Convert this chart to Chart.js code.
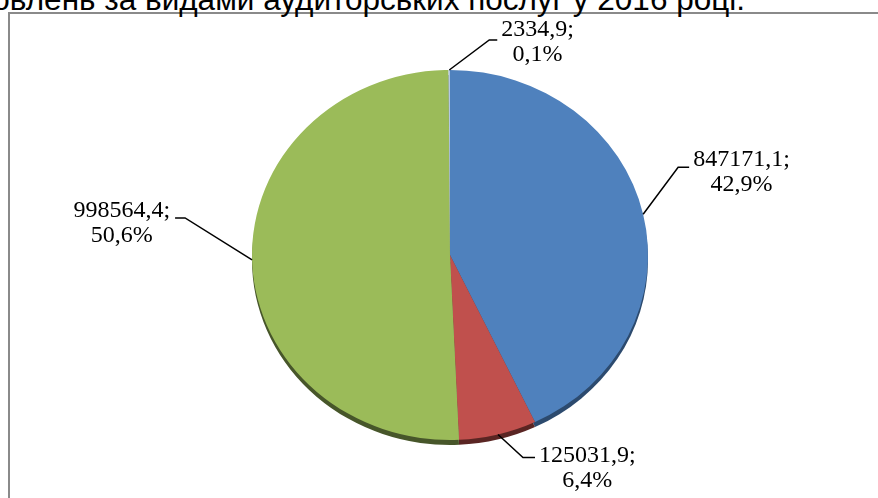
<!DOCTYPE html>
<html lang="uk">
<head>
<meta charset="utf-8">
<script src="https://cdn.jsdelivr.net/npm/chart.js@4/dist/chart.umd.min.js"></script>
<style>
    html, body { margin: 0; padding: 0; background: #fff; overflow: hidden; }
    body { width: 878px; height: 498px; position: relative; }
    .frame { position: absolute; left: 8px; top: 12px; width: 900px; height: 600px; border: 2px solid #8a8a8a; }
    .title { position: absolute; right: 133px; top: -19px; white-space: nowrap; font: 31.5px "Liberation Sans", Arial, sans-serif; color: #000; }
    #chart { position: absolute; left: 0; top: 0; }
</style>
</head>
<body>
<div class="frame"></div>
<div class="title">Структура замовлень за видами аудиторських послуг у 2016 році.</div>
<canvas id="chart" width="878" height="498"></canvas>
<script>
const categories = ["Послуга 1", "Послуга 2", "Послуга 3", "Послуга 4"];
const values = [847171.1, 125031.9, 998564.4, 2334.9];
const percentLabels = ["42,9%", "6,4%", "50,6%", "0,1%"];
const colors = ["#4f81bd", "#c0504d", "#9bbb59", "#b4c7e2"];
const rimColors = ["#2c4a6e", "#5a2523", "#47562a", "#5c6f88"];

// where each leader line bends and how far the text sits from it
const labelLayout = [
    { ex: 35, ey: -47, hx: 11, ty: -8 },
    { ex: 25, ey: 23, hx: 12, ty: -2 },
    { ex: -67, ey: -42, hx: -10, ty: -7 },
    { ex: 40, ey: -30, hx: 8, ty: -10 },
];

const squash = 185 / 198;
const fmt = (v) => v.toFixed(1).replace(".", ",");

const tiltPlugin = {
    id: "tilt",
    beforeDatasetsDraw(chart) {
        const ctx = chart.ctx;
        const arcs = chart.getDatasetMeta(0).data;
        const { x, y } = arcs[0];
        ctx.save();
        ctx.translate(x, y);
        ctx.scale(1, squash);
        ctx.translate(-x, -y);
        // dark rim under the pie
        const drop = 5 / squash;
        arcs.forEach((arc, i) => {
            ctx.beginPath();
            ctx.moveTo(arc.x, arc.y + drop);
            ctx.arc(arc.x, arc.y + drop, arc.outerRadius, arc.startAngle, arc.endAngle);
            ctx.closePath();
            ctx.fillStyle = rimColors[i];
            ctx.fill();
        });
    },
    afterDatasetsDraw(chart) {
        chart.ctx.restore();
    },
};

const labelPlugin = {
    id: "pieLabels",
    afterDraw(chart) {
        const ctx = chart.ctx;
        const arcs = chart.getDatasetMeta(0).data;
        ctx.save();
        ctx.font = '24px "Liberation Serif", "Times New Roman", serif';
        ctx.fillStyle = "#000";
        ctx.strokeStyle = "#000";
        ctx.lineWidth = 1.5;
        ctx.textAlign = "center";
        ctx.textBaseline = "middle";
        arcs.forEach((arc, i) => {
            const mid = (arc.startAngle + arc.endAngle) / 2;
            const ax = arc.x + arc.outerRadius * Math.cos(mid);
            const ay = arc.y + arc.outerRadius * squash * Math.sin(mid);
            const lay = labelLayout[i];
            const bx = ax + lay.ex;
            const by = ay + lay.ey;
            const endX = bx + lay.hx;
            ctx.beginPath();
            ctx.moveTo(ax, ay);
            ctx.lineTo(bx, by);
            ctx.lineTo(endX, by);
            ctx.stroke();

            const line1 = fmt(values[i]) + ";";
            const line2 = percentLabels[i];
            const w = Math.max(ctx.measureText(line1).width, ctx.measureText(line2).width);
            const tx = lay.hx > 0 ? endX + 4 + w / 2 : endX - 5 - w / 2;
            const ty = by + lay.ty;
            ctx.fillText(line1, tx, ty);
            ctx.fillText(line2, tx, ty + 25);
        });
        ctx.restore();
    },
};

new Chart(document.getElementById("chart"), {
    type: "pie",
    data: {
        labels: categories,
        datasets: [
            {
                data: values,
                backgroundColor: colors,
                borderWidth: 0,
            },
        ],
    },
    options: {
        responsive: false,
        animation: false,
        layout: {
            padding: { left: 252, right: 230, top: 57, bottom: 45 },
        },
        plugins: {
            legend: { display: false },
            tooltip: { enabled: false },
        },
    },
    plugins: [tiltPlugin, labelPlugin],
});
</script>
</body>
</html>
